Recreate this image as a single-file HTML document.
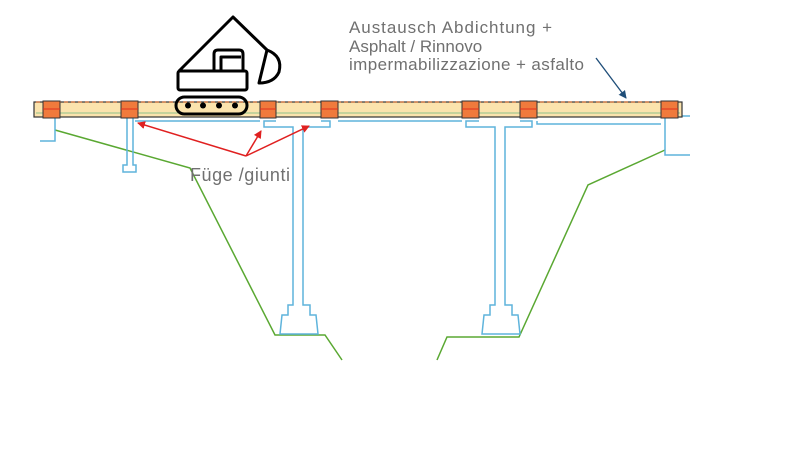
<!DOCTYPE html>
<html><head><meta charset="utf-8"><style>html,body{margin:0;padding:0;background:#fff;}svg{display:block}</style></head>
<body>
<svg width="800" height="450" viewBox="0 0 800 450" xmlns="http://www.w3.org/2000/svg" font-family="Liberation Sans, sans-serif">
<defs>
<marker id="ar" markerWidth="8" markerHeight="8" refX="7" refY="4" orient="auto" markerUnits="userSpaceOnUse"><path d="M0,0 L8,4 L0,8 z" fill="#e02020"/></marker>
<marker id="ab" markerWidth="8" markerHeight="8" refX="7" refY="4" orient="auto" markerUnits="userSpaceOnUse"><path d="M0,0 L8,4 L0,8 z" fill="#1f4e79"/></marker>
</defs>
<polyline points="55,130 190,168 275,335 325,335 342,360" fill="none" stroke="#5aa832" stroke-width="1.5"/>
<polyline points="437,360 447,337 519,337 588,185 665,150" fill="none" stroke="#5aa832" stroke-width="1.5"/>
<g fill="none" stroke="#5fb4dc" stroke-width="1.5">
<polyline points="55,118 55,141 40,141"/>
<polyline points="665,118 665,155 690,155"/>
<line x1="665" y1="116" x2="690" y2="116"/>
<polyline points="127,118 127,165 123,165 123,172 136,172 136,165 133,165 133,118"/>
<polyline points="135,121 260,121"/>
<polyline points="276,121 264,121 264,127 293,127 293,305 288,305 288,315 282,315 280,334 318,334 316,315 310,315 310,305 303,305 303,127 330,127 330,121 321,121"/>
<polyline points="338,121 462,121"/>
<polyline points="479,121 466,121 466,127 495,127 495,305 490,305 490,315 484,315 482,334 520,334 518,315 512,315 512,305 505,305 505,127 532,127 532,121 520,121"/>
<polyline points="537,121 537,124 661,124"/>
</g>
<rect x="34" y="102" width="648" height="15" fill="#fbe3ad" stroke="#333" stroke-width="1.2"/>
<line x1="36" y1="113" x2="680" y2="113" stroke="#8fc08a" stroke-width="1"/>
<line x1="36" y1="102" x2="680" y2="102" stroke="#d2703a" stroke-width="1.3" stroke-dasharray="4,3"/>
<g fill="#f07a3c" stroke="#333" stroke-width="1">
<rect x="43" y="101" width="17" height="17"/><rect x="121" y="101" width="17" height="17"/>
<rect x="260" y="101" width="16" height="17"/><rect x="321" y="101" width="17" height="17"/>
<rect x="462" y="101" width="17" height="17"/><rect x="520" y="101" width="17" height="17"/>
<rect x="661" y="101" width="17" height="17"/>
</g>
<g stroke="#e0301e" stroke-width="1"><line x1="43" y1="109" x2="60" y2="109"/><line x1="121" y1="109" x2="138" y2="109"/><line x1="260" y1="109" x2="276" y2="109"/><line x1="321" y1="109" x2="338" y2="109"/><line x1="462" y1="109" x2="479" y2="109"/><line x1="520" y1="109" x2="537" y2="109"/><line x1="661" y1="109" x2="678" y2="109"/></g>
<g fill="none" stroke="#000" stroke-width="3" stroke-linejoin="round">
<polyline points="179,71 233,17 267,50"/>
<path d="M267,50 Q283,56 279,72 Q274,83 259,83 Z"/>
<rect x="178" y="71" width="69" height="19" rx="2"/>
<path d="M214,71 L214,54 Q214,50 218,50 L239,50 Q243,50 243,54 L243,71"/>
<path d="M221,71 L221,57 L241,57"/>
<rect x="176" y="97" width="71" height="17" rx="8.5"/>
</g>
<g fill="#000"><circle cx="188" cy="105.5" r="3"/><circle cx="203" cy="105.5" r="3"/><circle cx="219" cy="105.5" r="3"/><circle cx="235" cy="105.5" r="3"/></g>
<g stroke="#e02020" stroke-width="1.5" fill="none">
<line x1="246" y1="156" x2="138" y2="123" marker-end="url(#ar)"/>
<line x1="246" y1="156" x2="261" y2="131" marker-end="url(#ar)"/>
<line x1="246" y1="156" x2="309" y2="126" marker-end="url(#ar)"/>
</g>
<text x="190" y="181" font-size="18" fill="#707070" textLength="100">Füge /giunti</text>
<g font-size="17" fill="#707070">
<text x="349" y="33" textLength="203">Austausch Abdichtung +</text>
<text x="349" y="52">Asphalt / Rinnovo</text>
<text x="349" y="70" textLength="235">impermabilizzazione + asfalto</text>
</g>
<line x1="596" y1="58" x2="626" y2="98" stroke="#1f4e79" stroke-width="1.3" marker-end="url(#ab)"/>
</svg>
</body></html>
